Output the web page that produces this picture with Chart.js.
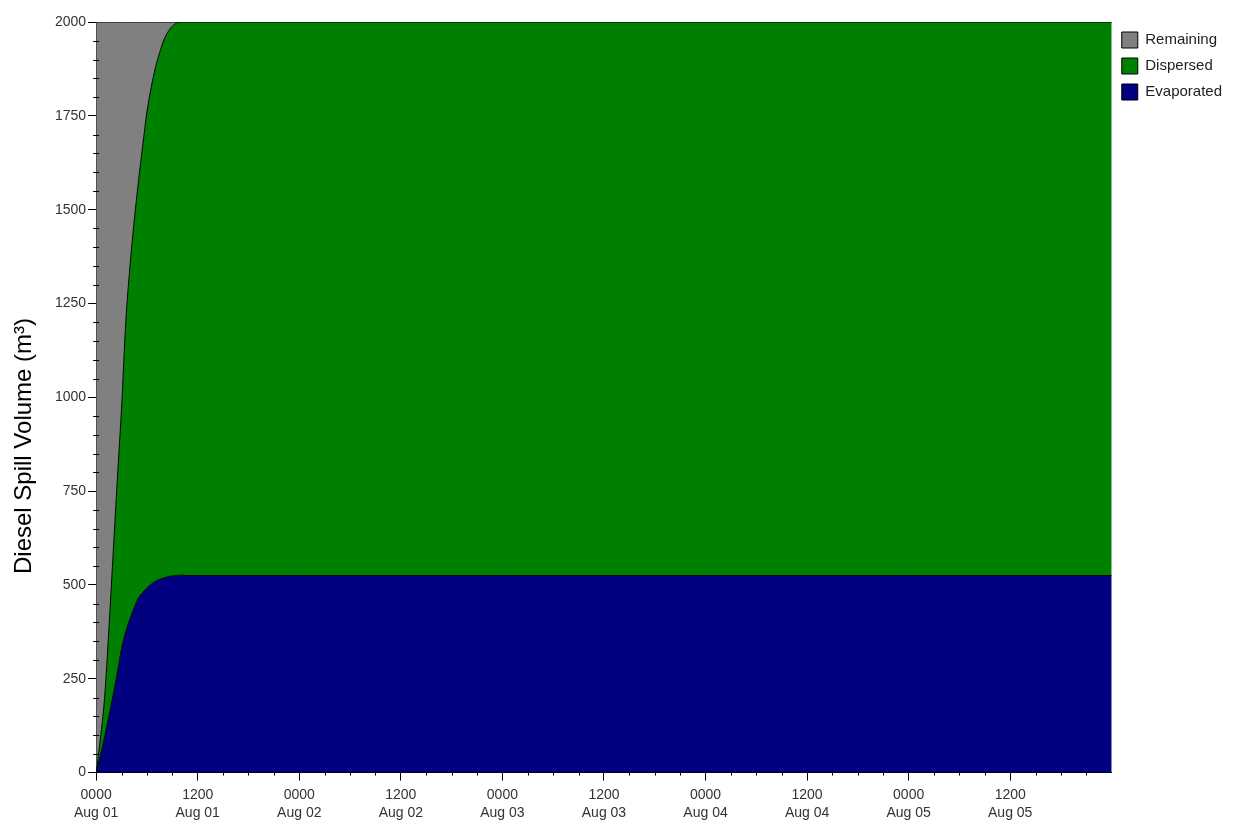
<!DOCTYPE html>
<html>
<head>
<meta charset="utf-8">
<script src="https://cdn.jsdelivr.net/npm/chart.js@4.4.1/dist/chart.umd.min.js"></script>
<style>
  html, body { margin: 0; padding: 0; background: #fff; }
  #wrap { position: relative; width: 1233px; height: 827px; }
</style>
</head>
<body>
<div id="wrap"><canvas id="spillChart"></canvas></div>
<script>
// hours after 0000 Aug 01
const hours = [0, 0.5, 1, 1.5, 2, 2.5, 3, 3.5, 4, 4.5, 5, 5.5, 6, 6.5, 7, 7.5, 8, 8.5, 9, 9.5, 10, 11, 12, 24, 48, 72, 96, 120];
const evaporated = [0, 45, 95, 150, 205, 265, 330, 375, 410, 440, 465, 480, 492, 502, 510, 515, 519, 522, 524, 525, 526, 525, 525, 525, 525, 525, 525, 525];
const dispersed = [0, 45, 105, 230, 375, 515, 640, 825, 940, 1030, 1110, 1190, 1268, 1323, 1368, 1403, 1433, 1452, 1465, 1472, 1474, 1475, 1475, 1475, 1475, 1475, 1475, 1475];
const remaining = [2000, 1910, 1800, 1620, 1420, 1220, 1030, 800, 650, 530, 425, 330, 240, 175, 122, 82, 48, 26, 11, 3, 0, 0, 0, 0, 0, 0, 0, 0];

const xTickTimes = ['0000', '1200', '0000', '1200', '0000', '1200', '0000', '1200', '0000', '1200'];
const xTickDates = ['Aug 01', 'Aug 01', 'Aug 02', 'Aug 02', 'Aug 03', 'Aug 03', 'Aug 04', 'Aug 04', 'Aug 05', 'Aug 05'];
const yAxisTitle = 'Diesel Spill Volume (m\u00B3)';

const toPoints = (vals) => vals.map((v, i) => ({ x: hours[i], y: v }));
const fontFamily = '"Liberation Sans", Arial, sans-serif';

// small minor ticks and the y axis title
const extras = {
    id: 'extras',
    afterDraw(chart) {
        const ctx = chart.ctx;
        const xs = chart.scales.x, ys = chart.scales.y;
        ctx.save();
        ctx.strokeStyle = '#000';
        ctx.lineWidth = 1;
        ctx.beginPath();
        for (let v = 50; v < 2000; v += 50) {
            if (v % 250 === 0) continue;
            const py = Math.round(ys.getPixelForValue(v)) + 0.5;
            ctx.moveTo(xs.left - 3, py);
            ctx.lineTo(xs.left + 3, py);
        }
        for (let h = 3; h < 120; h += 3) {
            if (h % 12 === 0) continue;
            const px = Math.round(xs.getPixelForValue(h)) + 0.5;
            ctx.moveTo(px, ys.bottom - 2);
            ctx.lineTo(px, ys.bottom + 3);
        }
        ctx.stroke();

        ctx.translate(31, 446);
        ctx.rotate(-Math.PI / 2);
        ctx.fillStyle = '#000';
        ctx.font = '24px ' + fontFamily;
        ctx.textAlign = 'center';
        ctx.textBaseline = 'alphabetic';
        ctx.fillText(yAxisTitle, 0, 0);
        ctx.restore();
    }
};

const ctx = document.getElementById('spillChart').getContext('2d');
new Chart(ctx, {
    type: 'line',
    data: {
        datasets: [{
            label: 'Evaporated',
            data: toPoints(evaporated),
            backgroundColor: '#000080',
            borderColor: '#000',
            borderWidth: 1,
            fill: 'origin'
        }, {
            label: 'Dispersed',
            data: toPoints(dispersed),
            backgroundColor: '#008000',
            borderColor: '#000',
            borderWidth: 1,
            fill: '-1'
        }, {
            label: 'Remaining',
            data: toPoints(remaining),
            backgroundColor: '#808080',
            borderColor: '#000',
            borderWidth: 1,
            fill: '-1'
        }]
    },
    options: {
        responsive: true,
        maintainAspectRatio: false,
        animation: false,
        elements: {
            point: { radius: 0 },
            line: { cubicInterpolationMode: 'monotone' }
        },
        layout: {
            padding: { left: 53, right: 1, top: 22, bottom: 0 }
        },
        scales: {
            x: {
                type: 'linear',
                min: 0,
                max: 120,
                grid: { drawOnChartArea: false, tickLength: 8, tickColor: '#000' },
                border: { color: '#000' },
                ticks: {
                    stepSize: 12,
                    autoSkip: false,
                    maxRotation: 0,
                    padding: 5,
                    color: '#333',
                    font: { family: fontFamily, size: 14, lineHeight: 1.3 },
                    callback: (value) => {
                        const i = value / 12;
                        if (i >= xTickTimes.length) return null;
                        return [xTickTimes[i], xTickDates[i]];
                    }
                }
            },
            y: {
                stacked: true,
                min: 0,
                max: 2000,
                grid: { drawOnChartArea: false, tickLength: 8, tickColor: '#000' },
                border: { color: '#000' },
                ticks: {
                    stepSize: 250,
                    padding: 2,
                    color: '#333',
                    font: { family: fontFamily, size: 14 },
                    callback: (value) => String(value)
                }
            }
        },
        plugins: {
            legend: {
                position: 'right',
                align: 'start',
                reverse: true,
                labels: {
                    boxWidth: 16,
                    boxHeight: 16,
                    padding: 10,
                    color: '#222',
                    font: { family: fontFamily, size: 15 }
                }
            },
            tooltip: { enabled: false }
        }
    },
    plugins: [extras]
});
</script>
</body>
</html>
